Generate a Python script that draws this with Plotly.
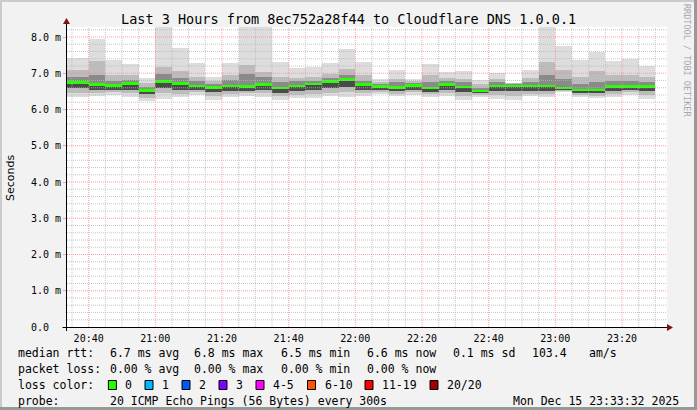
import plotly.graph_objects as go
import pandas as pd

# ---------------- data ----------------
day = "2025-12-15"
end_times = ["20:40", "20:45", "20:50", "20:55", "21:00", "21:05", "21:10", "21:15",
             "21:20", "21:25", "21:30", "21:35", "21:40", "21:45", "21:50", "21:55",
             "22:00", "22:05", "22:10", "22:15", "22:20", "22:25", "22:30", "22:35",
             "22:40", "22:45", "22:50", "22:55", "23:00", "23:05", "23:10", "23:15",
             "23:20", "23:25", "23:30"]

# RTT smoke envelope, milliseconds
rtt_max = [7.41, 7.94, 7.37, 7.26, 6.86, 8.40, 7.69, 7.29, 6.91, 7.29, 8.40, 8.40,
           7.31, 7.14, 7.18, 7.29, 7.67, 7.31, 6.83, 7.09, 6.85, 7.26, 7.04, 7.06,
           6.81, 7.00, 6.74, 7.09, 8.40, 7.76, 7.37, 7.60, 7.33, 7.40, 7.20]
rtt_upper = [7.10, 7.35, 6.95, 6.95, 6.72, 7.17, 7.05, 6.90, 6.78, 6.94, 7.22, 7.03,
             6.90, 6.88, 6.90, 6.98, 7.13, 6.95, 6.76, 6.85, 6.78, 6.95, 6.88, 6.85,
             6.70, 6.85, 6.72, 6.88, 7.30, 7.10, 6.90, 7.05, 6.95, 6.95, 6.90]
rtt_inner_hi = [6.90, 6.95, 6.80, 6.82, 6.62, 6.99, 6.88, 6.78, 6.70, 6.81, 6.99, 6.90,
                6.76, 6.78, 6.80, 6.88, 6.94, 6.80, 6.70, 6.75, 6.72, 6.75, 6.78, 6.75,
                6.60, 6.75, 6.69, 6.75, 6.95, 6.85, 6.70, 6.75, 6.78, 6.78, 6.75]
rtt_median = [6.74, 6.69, 6.66, 6.71, 6.52, 6.77, 6.71, 6.65, 6.60, 6.65, 6.63, 6.69,
              6.59, 6.65, 6.70, 6.77, 6.83, 6.69, 6.63, 6.61, 6.66, 6.59, 6.69, 6.62,
              6.51, 6.65, 6.65, 6.65, 6.65, 6.59, 6.54, 6.54, 6.63, 6.63, 6.63]
rtt_inner_lo = [6.58, 6.55, 6.55, 6.55, 6.42, 6.58, 6.55, 6.55, 6.48, 6.52, 6.52, 6.55,
                6.46, 6.50, 6.55, 6.58, 6.62, 6.55, 6.55, 6.50, 6.55, 6.48, 6.55, 6.48,
                6.45, 6.50, 6.50, 6.52, 6.52, 6.54, 6.46, 6.45, 6.52, 6.55, 6.50]
rtt_lower = [6.45, 6.45, 6.47, 6.45, 6.33, 6.45, 6.44, 6.47, 6.38, 6.44, 6.45, 6.45,
             6.37, 6.40, 6.43, 6.46, 6.48, 6.45, 6.49, 6.44, 6.47, 6.42, 6.45, 6.38,
             6.40, 6.40, 6.38, 6.44, 6.43, 6.51, 6.40, 6.38, 6.42, 6.47, 6.40]
rtt_min = [6.34, 6.37, 6.40, 6.35, 6.24, 6.30, 6.34, 6.40, 6.26, 6.35, 6.37, 6.34,
           6.26, 6.31, 6.33, 6.37, 6.35, 6.37, 6.43, 6.37, 6.40, 6.34, 6.37, 6.26,
           6.34, 6.30, 6.26, 6.37, 6.35, 6.48, 6.35, 6.32, 6.34, 6.40, 6.30]

y_tick_vals = [0, 1, 2, 3, 4, 5, 6, 7, 8]
y_tick_text = ["0.0\u00a0\u00a0", "1.0 m", "2.0 m", "3.0 m", "4.0 m", "5.0 m", "6.0 m", "7.0 m", "8.0 m"]

title_text = "Last 3 Hours from 8ec752a28f44 to Cloudflare DNS 1.0.0.1"
rtt_stats = [("6.7 ms avg", 107.6), ("6.8 ms max", 192.4), ("6.5 ms min", 279.0),
             ("6.6 ms now", 365.0), ("0.1 ms sd", 451.0), ("103.4", 530.0), ("am/s", 586.7)]
loss_stats = [("0.00 % avg", 107.6), ("0.00 % max", 192.4), ("0.00 % min", 279.0),
              ("0.00 % now", 365.0)]
loss_labels = ["0", "1", "2", "3", "4-5", "6-10", "11-19", "20/20"]
loss_colors = ["#26ff00", "#00b8ff", "#0059ff", "#7e00ff", "#ff00ff", "#ff5500", "#ff0000", "#a10000"]
probe_text = "20 ICMP Echo Pings (56 Bytes) every 300s"
stamp_text = "Mon Dec 15 23:33:32 2025"

# ---------------- geometry ----------------
W, H = 697, 410
L, R, T, B = 67, 30, 27, 83
PW, PH = W - L - R, H - T - B
MONO = "DejaVu Sans Mono"


def px(x):
    return (x - L) / PW


def py(y):
    return (H - B - y) / PH


ends = pd.to_datetime([f"{day} {t}" for t in end_times])
widths_ms = [600000] + [300000] * (len(ends) - 1)
centers = [e - pd.Timedelta(milliseconds=w / 2) for e, w in zip(ends, widths_ms)]

fig = go.Figure()


def band(lo, hi, color):
    fig.add_trace(go.Bar(
        x=centers, y=[h - l for l, h in zip(lo, hi)], base=lo, width=widths_ms,
        marker=dict(color=color, line=dict(width=0)), opacity=1,
        hoverinfo="skip", showlegend=False))


band(rtt_min, rtt_max, "#dddddd")
band(rtt_lower, rtt_upper, "#bcbcbc")
band(rtt_inner_lo, rtt_inner_hi, "#8a8a8a")
band(rtt_inner_lo, rtt_median, "#4a4a4a")
# median line (loss 0 colour)
fig.add_trace(go.Bar(
    x=centers, y=[0.075] * len(rtt_median), base=[m - 0.0375 for m in rtt_median],
    width=widths_ms, marker=dict(color=loss_colors[0], line=dict(width=0)),
    hoverinfo="skip", showlegend=False))

x0 = pd.Timestamp(f"{day} 20:33:30")
x1 = pd.Timestamp(f"{day} 23:33:30")
y_top = PH / 36.25

shapes = []
# grid over the data (rrdtool style)
minor_col = "rgba(180,180,180,0.75)"
major_col = "rgba(255,128,128,0.75)"
t = pd.Timestamp(f"{day} 20:35")
while t < x1:
    major = (t.minute % 20 == 0)
    shapes.append(dict(type="line", xref="x", yref="paper", x0=t, x1=t, y0=0, y1=1,
                       line=dict(color=major_col if major else minor_col, width=1, dash="1px,1px"),
                       layer="above"))
    t += pd.Timedelta(minutes=5)
for i in range(1, 42):
    yv = i * 0.2
    major = (i % 5 == 0)
    shapes.append(dict(type="line", xref="paper", yref="y", x0=0, x1=1, y0=yv, y1=yv,
                       line=dict(color=major_col if major else minor_col, width=1, dash="1px,1px"),
                       layer="above"))

# axes with arrows
axis_col = "#000000"
arrow_col = "#7f1010"
shapes.append(dict(type="line", xref="paper", yref="paper", x0=px(62.5), x1=px(668), y0=py(327.5), y1=py(327.5),
                   line=dict(color=axis_col, width=1), layer="above"))
shapes.append(dict(type="line", xref="paper", yref="paper", x0=px(66.5), x1=px(66.5), y0=py(331), y1=py(23),
                   line=dict(color=axis_col, width=1), layer="above"))
shapes.append(dict(type="path", xref="paper", yref="paper",
                   path=f"M {px(667)} {py(324)} L {px(673)} {py(327.5)} L {px(667)} {py(331)} Z",
                   fillcolor=arrow_col, line=dict(width=0), layer="above"))
shapes.append(dict(type="path", xref="paper", yref="paper",
                   path=f"M {px(63)} {py(24)} L {px(66.5)} {py(18)} L {px(70)} {py(24)} Z",
                   fillcolor=arrow_col, line=dict(width=0), layer="above"))

# 3D frame
shapes.append(dict(type="rect", xref="paper", yref="paper", x0=px(0), x1=px(W), y0=py(0), y1=py(2),
                   fillcolor="#cbcbcb", line=dict(width=0), layer="above"))
shapes.append(dict(type="rect", xref="paper", yref="paper", x0=px(0), x1=px(2), y0=py(0), y1=py(H),
                   fillcolor="#cbcbcb", line=dict(width=0), layer="above"))
shapes.append(dict(type="rect", xref="paper", yref="paper", x0=px(0), x1=px(W), y0=py(H - 3), y1=py(H),
                   fillcolor="#999999", line=dict(width=0), layer="above"))
shapes.append(dict(type="rect", xref="paper", yref="paper", x0=px(W - 3), x1=px(W), y0=py(0), y1=py(H),
                   fillcolor="#999999", line=dict(width=0), layer="above"))

annotations = []


def text(s, x, y, size=11.5, anchor="left", color="#000000", angle=0, family=MONO):
    annotations.append(dict(text=s, xref="paper", yref="paper", x=px(x), y=py(y),
                            xanchor=anchor, yanchor="middle", showarrow=False, textangle=angle,
                            font=dict(family=family, size=size, color=color)))


text(title_text, 348, 19, size=13.5, anchor="center")
text("RRDTOOL / TOBI OETIKER", 687, 60, size=8.5, anchor="center", color="#a8a8a8", angle=90)
text("Seconds", 10, 178, size=11, anchor="center", angle=-90, family="DejaVu Sans")

text("median rtt:", 16.4, 353)
for s, x in rtt_stats:
    text(s, x, 353)
text("packet loss:", 16.4, 369)
for s, x in loss_stats:
    text(s, x, 369)
text("loss color:", 16.4, 385)
box_x = [108.4, 145.0, 182.0, 219.0, 256.0, 307.5, 365.0, 430.0]
for lab, col, bx in zip(loss_labels, loss_colors, box_x):
    shapes.append(dict(type="rect", xref="paper", yref="paper", x0=px(bx), x1=px(bx + 8),
                       y0=py(389.5), y1=py(380.5), fillcolor=col,
                       line=dict(color="#000000", width=1), layer="above"))
    text(lab, bx + 15, 385)
text("probe:", 16.4, 401)
text(probe_text, 107.6, 401)
text(stamp_text, 681, 401, anchor="right")

fig.update_layout(
    width=W, height=H, margin=dict(l=L, r=R, t=T, b=B, pad=0),
    paper_bgcolor="#f2f2f2", plot_bgcolor="#ffffff",
    barmode="overlay", bargap=0, showlegend=False,
    shapes=shapes, annotations=annotations,
    xaxis=dict(type="date", range=[x0, x1], tickformat="%H:%M",
               tick0=f"{day} 20:40", dtick=20 * 60 * 1000,
               showgrid=False, zeroline=False, showline=False, ticks="",
               ticklabelstandoff=4,
               tickfont=dict(family=MONO, size=10, color="#000000"), fixedrange=True),
    yaxis=dict(range=[0, y_top], tickmode="array", tickvals=y_tick_vals, ticktext=y_tick_text,
               showgrid=False, zeroline=False, showline=False,
               ticks="outside", ticklen=3, tickcolor="rgba(255,128,128,0.75)",
               tickfont=dict(family=MONO, size=10, color="#000000"), fixedrange=True),
)

fig.write_html("out.html", config={"displayModeBar": False, "staticPlot": True},
               post_script="document.body.style.margin='0';document.body.style.overflow='hidden';")
